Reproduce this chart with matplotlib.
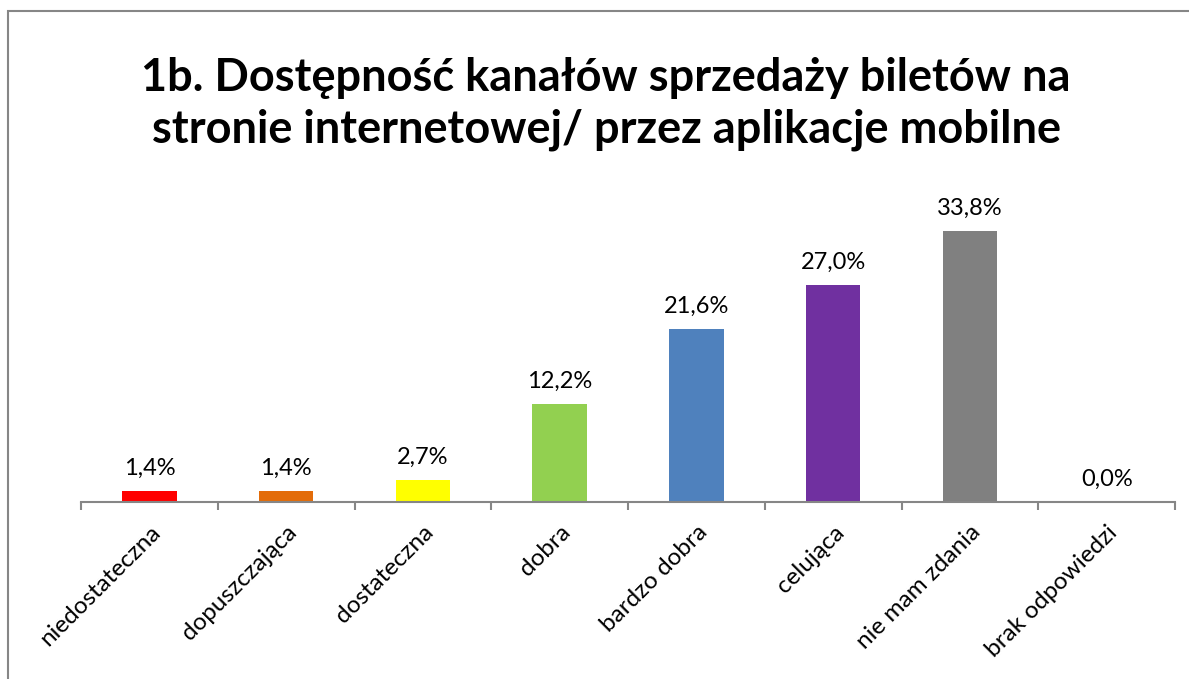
import matplotlib.pyplot as plt
import numpy as np
from matplotlib.patches import Rectangle

categories = [
    "niedostateczna",
    "dopuszczająca",
    "dostateczna",
    "dobra",
    "bardzo dobra",
    "celująca",
    "nie mam zdania",
    "brak odpowiedzi",
]
values = [1.4, 1.4, 2.7, 12.2, 21.6, 27.0, 33.8, 0.0]
colors = ["#FF0000", "#E36C09", "#FFFF00", "#92D050", "#4F81BD", "#7030A0", "#808080", "#808080"]
title = "1b. Dostępność kanałów sprzedaży biletów na\nstronie internetowej/ przez aplikacje mobilne"

plt.rcParams["font.family"] = ["Lato", "DejaVu Sans"]

fig = plt.figure(figsize=(11.89, 6.79), dpi=100)
ax = fig.add_axes([81 / 1189, 177 / 679, 1094 / 1189, 321 / 679])

x = np.arange(len(categories))
bars = ax.bar(x, values, width=0.4, color=colors)

for xi, v in zip(x, values):
    label = f"{v:.1f}%".replace(".", ",")
    ax.text(xi, v + 1.5, label, ha="center", va="bottom", fontsize=17, color="#000000")

ax.set_xlim(-0.5, len(categories) - 0.5)
ax.set_ylim(0, 40)
ax.set_yticks([])
for side in ["left", "right", "top"]:
    ax.spines[side].set_visible(False)
ax.spines["bottom"].set_color("#868686")
ax.spines["bottom"].set_linewidth(1.5)

ax.set_xticks(x)
ax.set_xticklabels(categories, rotation=45, ha="right", rotation_mode="anchor", fontsize=17.5)
ax.tick_params(axis="x", which="major", length=0, pad=14)
ax.set_xticks(np.arange(-0.5, len(categories), 1.0), minor=True)
ax.tick_params(axis="x", which="minor", length=6, width=1.5, color="#868686", direction="out")

fig.text(606 / 1189, 1 - 104 / 679, title, ha="center", va="center",
         fontsize=32.5, fontweight="bold", linespacing=1.3)

fig.patches.append(Rectangle((8 / 1189, -0.2), 1.2, 1.2 - 11 / 679, transform=fig.transFigure,
                             fill=False, edgecolor="#868686", linewidth=1.5))

fig.savefig("out.png", dpi=100)
